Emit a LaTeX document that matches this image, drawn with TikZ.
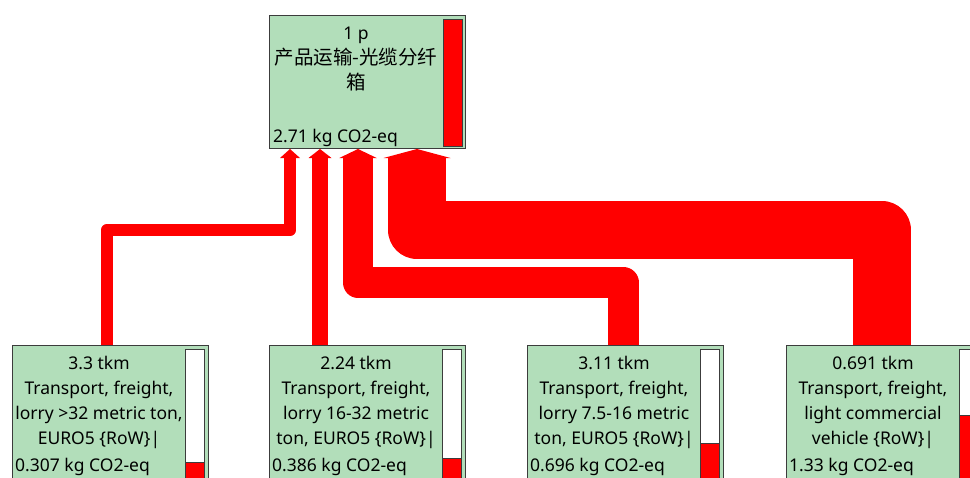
\documentclass[tikz,border=0pt]{standalone}
\usepackage{fontspec}
\setmainfont{Noto Sans}
\newfontfamily\cjk{Noto Sans CJK SC}
\usetikzlibrary{calc,backgrounds}
\definecolor{boxfill}{RGB}{178,222,186}
\definecolor{boxline}{RGB}{60,60,60}
\definecolor{flowred}{RGB}{255,0,0}
\newcommand\flowhead[2]{%
  \fill[flowred] ($(top.south west)+(#1-#2,9)$) -- ($(top.south west)+(#1,0)$) -- ($(top.south west)+(#1+#2,9)$) -- cycle;}
\begin{document}
\begin{tikzpicture}[x=1pt,y=-1pt,
  procbox/.style={draw=boxline, fill=boxfill, line width=1pt, rectangle, inner sep=0pt, minimum width=196pt, anchor=north west},
  lbl/.style={font=\fontsize{17.5}{25}\selectfont, align=center, inner sep=0pt, anchor=base},
  val/.style={font=\fontsize{17.5}{25}\selectfont, inner sep=0pt, anchor=base west},
  barframe/.style={draw=boxline, line width=1pt},
  flow/.style={draw=flowred, line join=round}
]
\useasboundingbox (0,0) rectangle (970,477);
\clip (0,0) rectangle (970,477);

% boxes
\node[procbox, minimum height=133pt] (top) at (269,15) {};
\node[procbox, minimum height=150pt] (b1) at (12,345) {};
\node[procbox, minimum height=150pt] (b2) at (269,345) {};
\node[procbox, minimum height=150pt] (b3) at (527,345) {};
\node[procbox, minimum height=150pt] (b4) at (786,345) {};

% bars
\filldraw[barframe, fill=flowred] ($(top.north west)+(174,4)$) rectangle ($(top.south west)+(193,-3)$);
\foreach \b/\r in {b1/117, b2/113, b3/98, b4/70}{
  \filldraw[barframe, fill=white] ($(\b.north west)+(173.5,4)$) rectangle ($(\b.north west)+(192.5,150)$);
  \filldraw[barframe, fill=flowred] ($(\b.north west)+(173.5,\r)$) rectangle ($(\b.north west)+(192.5,150)$);
}

% texts (anchor base = baseline of the last line)
\node[lbl] (ttop) at ($(top.north west)+(87,74)$) {1 p\\{\cjk\fontsize{19.5}{25}\selectfont 产品运输-光缆分纤}\\{\cjk\fontsize{19.5}{25}\selectfont 箱}};
\node[val] (vtop) at ($(top.north west)+(4,127)$) {2.71 kg CO2-eq};

\node[lbl] (t1) at ($(b1.north west)+(87,99)$) {3.3 tkm\\Transport, freight,\\lorry >32 metric ton,\\EURO5 \{RoW\}|};
\node[val] (v1) at ($(b1.north west)+(3,126)$) {0.307 kg CO2-eq};

\node[lbl] (t2) at ($(b2.north west)+(87,99)$) {2.24 tkm\\Transport, freight,\\lorry 16-32 metric\\ton, EURO5 \{RoW\}|};
\node[val] (v2) at ($(b2.north west)+(3,126)$) {0.386 kg CO2-eq};

\node[lbl] (t3) at ($(b3.north west)+(87,99)$) {3.11 tkm\\Transport, freight,\\lorry 7.5-16 metric\\ton, EURO5 \{RoW\}|};
\node[val] (v3) at ($(b3.north west)+(3,126)$) {0.696 kg CO2-eq};

\node[lbl] (t4) at ($(b4.north west)+(87,99)$) {0.691 tkm\\Transport, freight,\\light commercial\\vehicle \{RoW\}|};
\node[val] (v4) at ($(b4.north west)+(3,126)$) {1.33 kg CO2-eq};

% flows
\begin{scope}[on background layer]
\draw[flow, line width=12.5pt] ($(b1.north west)+(95,0)$) -- ++(0,-115) -| ($(top.south west)+(21,8.5)$);
\draw[flow, line width=16pt] ($(b2.north west)+(51,0)$) -- ($(top.south west)+(51,8.5)$);
\draw[flow, line width=30.5pt] ($(b3.north west)+(96.5,0)$) -- ++(0,-62.5) -| ($(top.south west)+(89,8.5)$);
\draw[flow, line width=58pt] ($(b4.north west)+(96,0)$) -- ++(0,-115) -| ($(top.south west)+(148,8.5)$);
\flowhead{21}{10}
\flowhead{51}{11.5}
\flowhead{89}{18.75}
\flowhead{148}{33.5}
\end{scope}
\end{tikzpicture}
\end{document}
